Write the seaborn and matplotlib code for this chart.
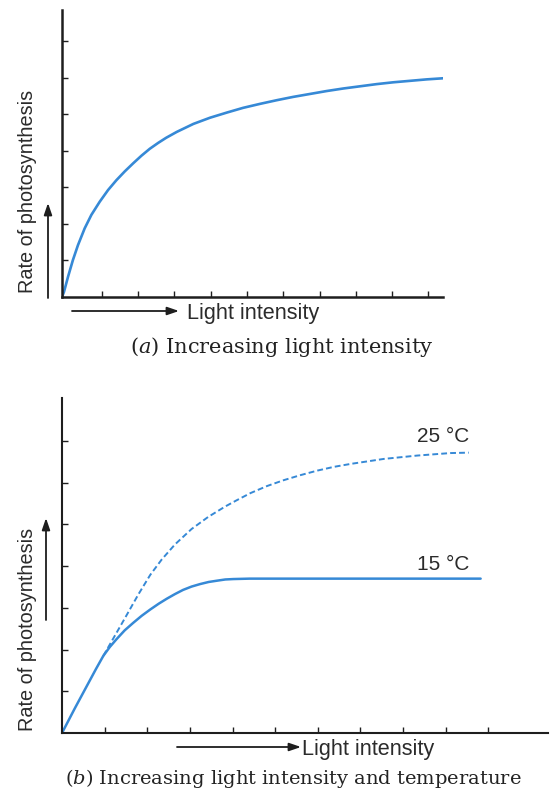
import numpy as np
import pandas as pd
import matplotlib
matplotlib.use("Agg")
import matplotlib.pyplot as plt
import seaborn as sns

# ---------------- data ----------------
# (a) increasing light intensity
light_a = [0, 0.055, 0.165, 0.30, 0.44, 0.625, 0.81, 1.04, 1.27, 1.50, 1.73, 1.96,
           2.19, 2.42, 2.65, 2.87, 3.16, 3.62, 4.08, 4.54, 4.99, 5.46, 5.92, 6.37,
           6.83, 7.29, 7.75, 8.21, 8.67, 9.13, 9.59, 10.05, 10.5]
rate_a = [0, 0.14, 0.55, 1.01, 1.42, 1.88, 2.25, 2.61, 2.93, 3.20, 3.44, 3.66,
          3.87, 4.06, 4.22, 4.36, 4.52, 4.74, 4.91, 5.05, 5.18, 5.29, 5.39, 5.48,
          5.56, 5.64, 5.71, 5.77, 5.83, 5.88, 5.92, 5.96, 5.99]

# (b) light intensity and temperature
light_15 = [0, 0.3, 0.6, 0.8, 0.97, 1.12, 1.28, 1.47, 1.67, 1.87, 2.07, 2.27, 2.46,
            2.65, 2.84, 3.04, 3.24, 3.44, 3.63, 3.83, 4.02, 4.4, 5.0, 6.0, 7.0, 8.0,
            9.0, 9.82]
rate_15 = [0, 0.59, 1.16, 1.54, 1.85, 2.06, 2.25, 2.46, 2.64, 2.81, 2.96, 3.10, 3.22,
           3.33, 3.43, 3.51, 3.57, 3.62, 3.65, 3.68, 3.69, 3.70, 3.70, 3.70, 3.70,
           3.70, 3.70, 3.70]
light_25 = [0.97, 1.16, 1.48, 1.79, 2.07, 2.34, 2.65, 3.04, 3.43, 3.83, 4.10, 4.42,
            4.81, 5.20, 5.59, 5.99, 6.38, 6.77, 7.16, 7.55, 7.94, 8.33, 8.72, 9.11, 9.54]
rate_25 = [1.85, 2.19, 2.76, 3.32, 3.79, 4.16, 4.52, 4.89, 5.18, 5.43, 5.58, 5.75,
           5.92, 6.06, 6.18, 6.29, 6.38, 6.45, 6.51, 6.57, 6.61, 6.65, 6.68, 6.71, 6.72]

temp_labels = ["25 °C", "15 °C"]
ylabel = "Rate of photosynthesis"
xlabel = "Light intensity"
caption_a = r"($\it{a}$) Increasing light intensity"
caption_b = r"($\it{b}$) Increasing light intensity and temperature"

# ---------------- style ----------------
sns.set_theme(style="white")
plt.rcParams["font.family"] = ["Liberation Sans", "DejaVu Sans"]
plt.rcParams["mathtext.fontset"] = "dejavuserif"

W, H = 551, 789
BLUE = "#3689d6"
AX = "#1e1e1e"
TXT = "#2b2b2b"

fig = plt.figure(figsize=(W / 100, H / 100), dpi=100)
fig.patch.set_facecolor("white")


def add_axes_px(left, top, right, bottom):
    return fig.add_axes([left / W, 1 - bottom / H, (right - left) / W, (bottom - top) / H])


def style_axes(ax, lw):
    for s in ["top", "right"]:
        ax.spines[s].set_visible(False)
    for s in ["left", "bottom"]:
        ax.spines[s].set_color(AX)
        ax.spines[s].set_linewidth(lw)
    ax.tick_params(axis="both", which="major", direction="in", length=4.5, width=1.0,
                   color=AX, labelleft=False, labelbottom=False, left=True, bottom=True)
    ax.set_xlabel("")
    ax.set_ylabel("")
    ax.set_facecolor("white")
    ax.grid(False)


# ---------------- panel (a) ----------------
ax1 = add_axes_px(62, 10, 443, 297)
dfa = pd.DataFrame({"light": light_a, "rate": rate_a})
sns.lineplot(data=dfa, x="light", y="rate", ax=ax1, color=BLUE, linewidth=1.9,
             sort=False, estimator=None, solid_joinstyle="round", solid_capstyle="round")
ax1.set_xlim(0, 10.5)
ax1.set_ylim(0, 7.86)
ax1.set_xticks(np.arange(1, 11) + 0.1)
ax1.set_yticks(np.arange(1, 8))
style_axes(ax1, 1.8)

# ---------------- panel (b) ----------------
ax2 = add_axes_px(62, 398, 548, 733)
df15 = pd.DataFrame({"light": light_15, "rate": rate_15})
df25 = pd.DataFrame({"light": light_25, "rate": rate_25})
sns.lineplot(data=df15, x="light", y="rate", ax=ax2, color=BLUE, linewidth=1.8,
             sort=False, estimator=None, solid_joinstyle="round")
sns.lineplot(data=df25, x="light", y="rate", ax=ax2, color=BLUE, linewidth=1.4,
             sort=False, estimator=None, linestyle=(0, (3.0, 1.6)))
ax2.set_xlim(0, 11.4)
ax2.set_ylim(0, 8.03)
ax2.set_xticks(np.arange(1, 11))
ax2.set_yticks(np.arange(1, 8))
style_axes(ax2, 1.5)


# ---------------- labels, arrows, captions ----------------
def ftext(px, py, s, **kw):
    fig.text(px / W, 1 - py / H, s, **kw)


def farrow(x0, y0, x1, y1):
    fig.add_artist(matplotlib.patches.FancyArrowPatch(
        (x0 / W, 1 - y0 / H), (x1 / W, 1 - y1 / H), transform=fig.transFigure,
        arrowstyle="-|>,head_length=7,head_width=2.4", linewidth=1.3, color=AX,
        mutation_scale=1, shrinkA=0, shrinkB=0))


ftext(417, 436, temp_labels[0], ha="left", va="center", fontsize=15, color=TXT)
ftext(417, 564, temp_labels[1], ha="left", va="center", fontsize=15, color=TXT)

ftext(28, 191.5, ylabel, rotation=90, ha="center", va="center", fontsize=14.3, color=TXT)
ftext(28, 629, ylabel, rotation=90, ha="center", va="center", fontsize=14.3, color=TXT)
ftext(187, 313, xlabel, ha="left", va="center", fontsize=15.6, color=TXT)
ftext(302, 750, xlabel, ha="left", va="center", fontsize=15.6, color=TXT)

farrow(48, 298, 48, 203)
farrow(72, 311, 179, 311)
farrow(46, 620, 46, 518)
farrow(177, 747, 301, 747)

ftext(281.5, 347, caption_a, ha="center", va="center", fontsize=15,
      family="DejaVu Serif", color="#222222")
ftext(293.5, 778, caption_b, ha="center", va="center", fontsize=14,
      family="DejaVu Serif", color="#222222")

fig.savefig("out.png", dpi=100, facecolor="white")
